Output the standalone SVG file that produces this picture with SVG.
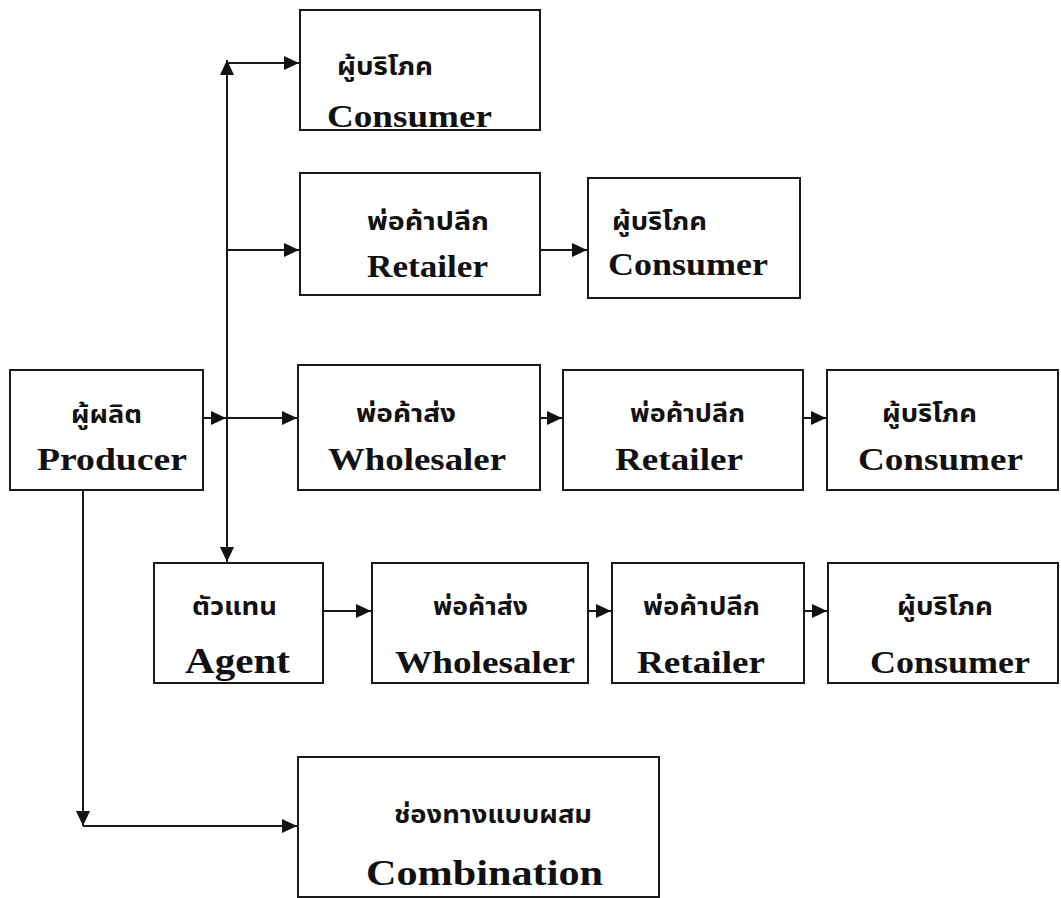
<svg xmlns="http://www.w3.org/2000/svg" width="1061" height="898" viewBox="0 0 1061 898">
<style>
.box{fill:#fff;stroke:#1a1a1a;stroke-width:2}
.th{font-family:"Noto Sans Thai","Noto Serif Thai","DejaVu Sans","Noto Sans",sans-serif;font-size:24px;font-weight:bold;fill:#111}
.en{font-family:"Liberation Serif","Times New Roman",serif;font-weight:bold;font-size:31px;fill:#111}
.big{font-size:35px}
.ln{fill:none;stroke:#1a1a1a;stroke-width:2}
</style>
<defs>
<marker id="ah" markerUnits="userSpaceOnUse" markerWidth="16" markerHeight="16" viewBox="0 0 16 16" refX="15" refY="8" orient="auto">
<path d="M0,1 L15,8 L0,15 Z" fill="#111"/>
</marker>
</defs>
<rect width="1061" height="898" fill="#fff"/>
<g id="connectors">
<line class="ln" x1="227" y1="300" x2="227" y2="60" marker-end="url(#ah)"/>
<line class="ln" x1="227" y1="300" x2="227" y2="562" marker-end="url(#ah)"/>
<line class="ln" x1="227" y1="63" x2="299" y2="63" marker-end="url(#ah)"/>
<line class="ln" x1="227" y1="250" x2="299" y2="250" marker-end="url(#ah)"/>
<line class="ln" x1="227" y1="418" x2="297" y2="418" marker-end="url(#ah)"/>
<line class="ln" x1="203" y1="418" x2="226" y2="418" marker-end="url(#ah)"/>
<line class="ln" x1="540" y1="250" x2="587" y2="250" marker-end="url(#ah)"/>
<line class="ln" x1="540" y1="418" x2="562" y2="418" marker-end="url(#ah)"/>
<line class="ln" x1="803" y1="418" x2="826" y2="418" marker-end="url(#ah)"/>
<line class="ln" x1="323" y1="611" x2="371" y2="611" marker-end="url(#ah)"/>
<line class="ln" x1="588" y1="611" x2="611" y2="611" marker-end="url(#ah)"/>
<line class="ln" x1="804" y1="611" x2="827" y2="611" marker-end="url(#ah)"/>
<line class="ln" x1="83" y1="490" x2="83" y2="826" marker-end="url(#ah)"/>
<line class="ln" x1="83" y1="826" x2="297" y2="826" marker-end="url(#ah)"/>
</g>
<g id="consumer-a">
<rect class="box" x="300" y="10" width="240" height="120"/>
<text class="th" x="337" y="75" textLength="96" lengthAdjust="spacingAndGlyphs">ผู้บริโภค</text>
<text class="en" x="327" y="127" textLength="165" lengthAdjust="spacingAndGlyphs">Consumer</text>
</g>
<g id="retailer-a">
<rect class="box" x="300" y="173" width="240" height="122"/>
<text class="th" x="367" y="230" textLength="122" lengthAdjust="spacingAndGlyphs">พ่อค้าปลีก</text>
<text class="en" x="367" y="277" textLength="121" lengthAdjust="spacingAndGlyphs">Retailer</text>
</g>
<g id="consumer-b">
<rect class="box" x="588" y="178" width="212" height="120"/>
<text class="th" x="612" y="230" textLength="95" lengthAdjust="spacingAndGlyphs">ผู้บริโภค</text>
<text class="en" x="608" y="275" textLength="160" lengthAdjust="spacingAndGlyphs">Consumer</text>
</g>
<g id="producer">
<rect class="box" x="10" y="370" width="193" height="120"/>
<text class="th" x="71" y="423" textLength="71" lengthAdjust="spacingAndGlyphs">ผู้ผลิต</text>
<text class="en" x="37" y="470" textLength="150" lengthAdjust="spacingAndGlyphs">Producer</text>
</g>
<g id="wholesaler-a">
<rect class="box" x="298" y="365" width="242" height="125"/>
<text class="th" x="356" y="422" textLength="100" lengthAdjust="spacingAndGlyphs">พ่อค้าส่ง</text>
<text class="en" x="328" y="470" textLength="178" lengthAdjust="spacingAndGlyphs">Wholesaler</text>
</g>
<g id="retailer-b">
<rect class="box" x="563" y="370" width="240" height="120"/>
<text class="th" x="630" y="422" textLength="115" lengthAdjust="spacingAndGlyphs">พ่อค้าปลีก</text>
<text class="en" x="615" y="470" textLength="128" lengthAdjust="spacingAndGlyphs">Retailer</text>
</g>
<g id="consumer-c">
<rect class="box" x="827" y="370" width="231" height="120"/>
<text class="th" x="882" y="422" textLength="95" lengthAdjust="spacingAndGlyphs">ผู้บริโภค</text>
<text class="en" x="858" y="470" textLength="165" lengthAdjust="spacingAndGlyphs">Consumer</text>
</g>
<g id="agent">
<rect class="box" x="154" y="563" width="169" height="120"/>
<text class="th" x="192" y="615" textLength="85" lengthAdjust="spacingAndGlyphs">ตัวแทน</text>
<text class="en big" x="185" y="673" textLength="105" lengthAdjust="spacingAndGlyphs">Agent</text>
</g>
<g id="wholesaler-b">
<rect class="box" x="372" y="563" width="216" height="120"/>
<text class="th" x="433" y="615" textLength="95" lengthAdjust="spacingAndGlyphs">พ่อค้าส่ง</text>
<text class="en" x="395" y="673" textLength="180" lengthAdjust="spacingAndGlyphs">Wholesaler</text>
</g>
<g id="retailer-c">
<rect class="box" x="612" y="563" width="192" height="120"/>
<text class="th" x="643" y="615" textLength="117" lengthAdjust="spacingAndGlyphs">พ่อค้าปลีก</text>
<text class="en" x="637" y="673" textLength="128" lengthAdjust="spacingAndGlyphs">Retailer</text>
</g>
<g id="consumer-d">
<rect class="box" x="828" y="563" width="230" height="120"/>
<text class="th" x="897" y="615" textLength="96" lengthAdjust="spacingAndGlyphs">ผู้บริโภค</text>
<text class="en" x="870" y="673" textLength="160" lengthAdjust="spacingAndGlyphs">Consumer</text>
</g>
<g id="combination">
<rect class="box" x="298" y="757" width="361" height="140"/>
<text class="th" x="394" y="823" textLength="198" lengthAdjust="spacingAndGlyphs">ช่องทางแบบผสม</text>
<text class="en big" x="366" y="885" textLength="237" lengthAdjust="spacingAndGlyphs">Combination</text>
</g>
</svg>
